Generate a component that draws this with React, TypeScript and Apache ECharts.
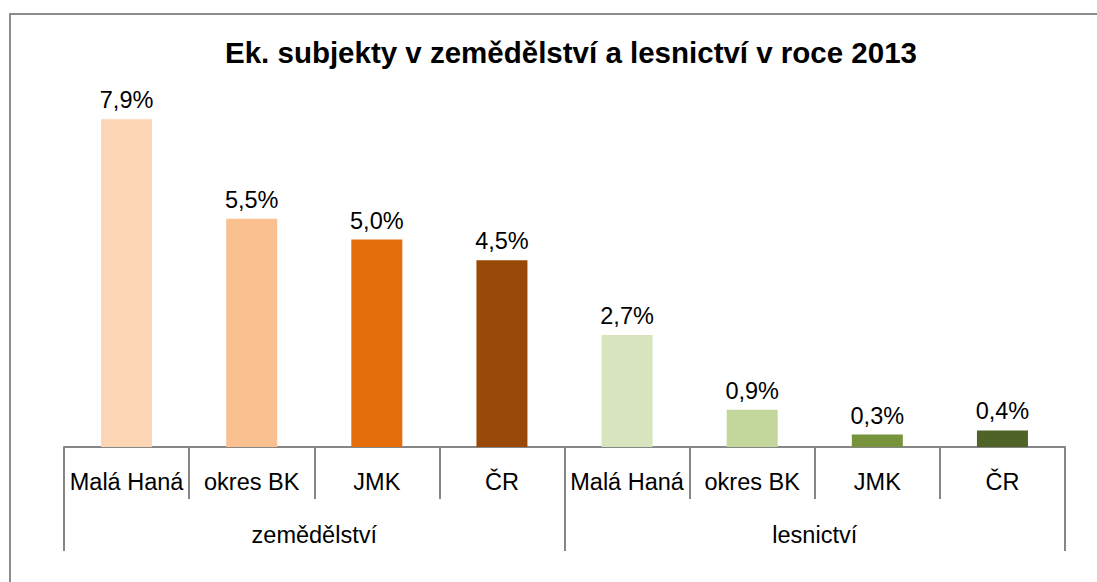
import React, { useEffect, useRef } from "react";
import * as echarts from "echarts";

const categories = ["Malá Haná", "okres BK", "JMK", "ČR", "Malá Haná", "okres BK", "JMK", "ČR"];
const groups = ["zemědělství", "lesnictví"];
const values = [7.9, 5.5, 5.0, 4.5, 2.7, 0.9, 0.3, 0.4];
const colors = ["#FCD5B5", "#FAC090", "#E46C0A", "#984807", "#D7E4BD", "#C3D69B", "#77933C", "#4F6228"];
const titleText = "Ek. subjekty v zemědělství a lesnictví v roce 2013";

const FONT = "'Liberation Sans', Arial, sans-serif";

export default function App() {
  const ref = useRef<HTMLDivElement>(null);
  useEffect(() => {
    if (!ref.current) return;
    const chart = echarts.init(ref.current, null, { renderer: "svg" });
    chart.setOption({
      animation: false,
      backgroundColor: "#ffffff",
      title: {
        text: titleText,
        left: 220,
        top: 32,
        textStyle: { fontFamily: FONT, fontSize: 29.5, fontWeight: "bold", color: "#000" },
      },
      graphic: [
        {
          type: "rect",
          shape: { x: 10, y: 14, width: 1200, height: 700 },
          style: { fill: "none", stroke: "#8c8c8c", lineWidth: 2 },
          silent: true,
        },
      ],
      grid: { left: 64, right: 32, top: 73.5, bottom: 135, containLabel: false },
      xAxis: [
        {
          type: "category",
          data: categories,
          position: "bottom",
          axisLine: { show: true, lineStyle: { color: "#868686", width: 2 } },
          axisTick: { show: true, length: 52, alignWithLabel: false, lineStyle: { color: "#868686", width: 2 } },
          axisLabel: { fontFamily: FONT, fontSize: 23.5, color: "#000", margin: 23, interval: 0 },
        },
        {
          type: "category",
          data: groups,
          position: "bottom",
          axisLine: { show: false },
          axisTick: { show: true, length: 104, alignWithLabel: false, lineStyle: { color: "#868686", width: 2 } },
          axisLabel: { fontFamily: FONT, fontSize: 23.5, color: "#000", margin: 76, interval: 0 },
        },
      ],
      yAxis: {
        type: "value",
        min: 0,
        max: 9,
        show: false,
        splitLine: { show: false },
      },
      series: [
        {
          type: "bar",
          xAxisIndex: 0,
          barWidth: 51,
          data: values.map((v, i) => ({ value: v, itemStyle: { color: colors[i] } })),
          label: {
            show: true,
            position: "top",
            distance: 7,
            fontFamily: FONT,
            fontSize: 23.5,
            color: "#000",
            formatter: (p: any) => p.value.toFixed(1).replace(".", ",") + "%",
          },
        },
      ],
    });
    return () => chart.dispose();
  }, []);
  return (
    <div
      ref={ref}
      style={{ position: "fixed", left: 0, top: 0, width: 1097, height: 582 }}
    />
  );
}
